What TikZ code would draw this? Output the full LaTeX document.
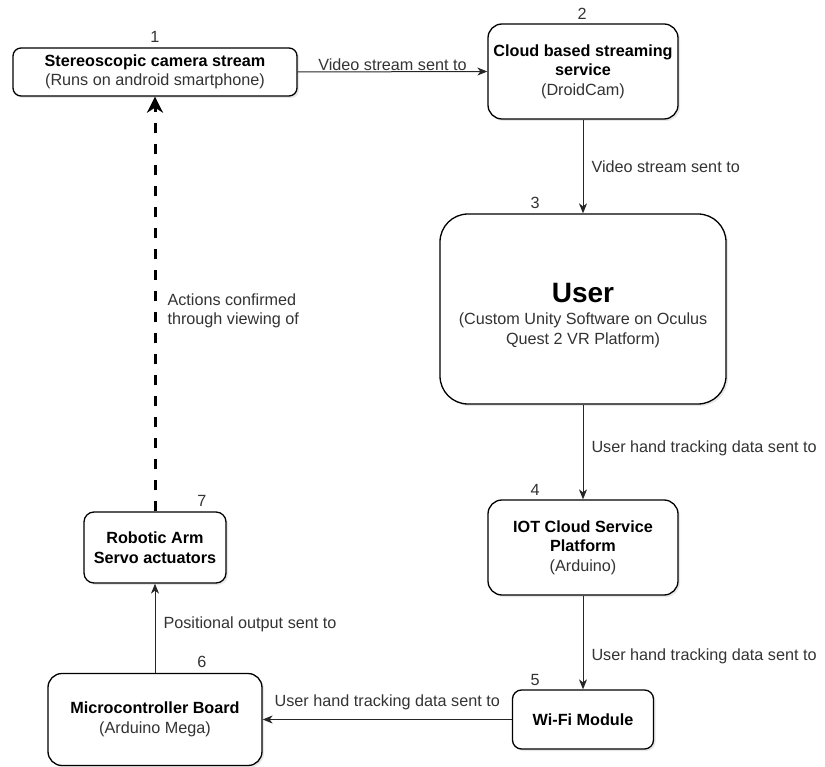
\documentclass[tikz,border=0pt]{standalone}
\usepackage{fontspec}
\setmainfont{Liberation Sans}
\usepackage{tikz}
\usetikzlibrary{arrows.meta,shadows}
\definecolor{txtgray}{HTML}{333333}

\begin{document}
\begin{tikzpicture}[x=1pt,y=-1pt,
	font=\fontsize{16.2}{19.5}\selectfont,
	box/.style={draw=black,line width=1.3pt,fill=white,align=center,inner sep=0pt,
		drop shadow={shadow xshift=2pt,shadow yshift=-2pt,opacity=0.18}},
	flow/.style={draw=black!85,line width=1pt,-{Stealth[length=10pt,width=8pt,inset=3pt]}},
	dashflow/.style={draw=black,line width=3pt,dash pattern=on 10pt off 11pt,
		-{Stealth[length=16pt,width=16pt,inset=5pt]}},
	lbl/.style={text=txtgray,inner sep=1pt},
	num/.style={text=txtgray,inner sep=0pt}]
	\useasboundingbox (0,0) rectangle (825,767);
	% boxes
	\node[box,rounded corners=8pt,minimum width=284pt,minimum height=48pt]
		(camera) at (155,72) {\textbf{Stereoscopic camera stream}\\{\color{txtgray}(Runs on android smartphone)}};
	\node[box,rounded corners=14pt,minimum width=190pt,minimum height=95pt]
		(stream) at (583,71.5) {\textbf{Cloud based streaming}\\\textbf{service}\\{\color{txtgray}(DroidCam)}};
	\node[box,rounded corners=28pt,minimum width=286pt,minimum height=190pt]
		(user) at (583,309) {{\rule{0pt}{32pt}\fontsize{28}{30}\selectfont\bfseries User}\\[2.5pt]{\color{txtgray}(Custom Unity Software on Oculus}\\{\color{txtgray}Quest 2 VR Platform)}};
	\node[box,rounded corners=14pt,minimum width=190pt,minimum height=95pt]
		(iot) at (583,547.5) {\textbf{IOT Cloud Service}\\\textbf{Platform}\\{\color{txtgray}(Arduino)}};
	\node[box,rounded corners=9pt,minimum width=141pt,minimum height=59pt]
		(wifi) at (583,719.5) {\textbf{Wi-Fi Module}};
	\node[box,rounded corners=14pt,minimum width=214pt,minimum height=92pt]
		(mcu) at (155,719.5) {\textbf{Microcontroller Board}\\{\color{txtgray}(Arduino Mega)}};
	\node[box,rounded corners=10pt,minimum width=142pt,minimum height=71pt]
		(arm) at (155,547.5) {\textbf{Robotic Arm}\\\textbf{Servo actuators}};
	% step numbers
	\node[num] (n1) at (155,37) {1};
	\node[num] (n2) at (582,14) {2};
	\node[num] (n3) at (535,203) {3};
	\node[num] (n4) at (535,490) {4};
	\node[num] (n5) at (535,680) {5};
	\node[num] (n6) at (202,662) {6};
	\node[num] (n7) at (202,501) {7};
	% connectors
	\draw[flow] (camera.east) -- (stream.west)
		node[lbl,midway,above] {Video stream sent to};
	\draw[flow] (stream) -- (user)
		node[lbl,midway,right=7pt] {Video stream sent to};
	\draw[flow] (user) -- (iot)
		node[lbl,pos=0.46,right=7pt] {User hand tracking data sent to};
	\draw[flow] (iot) -- (wifi)
		node[lbl,pos=0.65,right=7pt] {User hand tracking data sent to};
	\draw[flow] (wifi) -- (mcu)
		node[lbl,midway,above=8pt] {User hand tracking data sent to};
	\draw[flow] (mcu) -- (arm)
		node[lbl,pos=0.54,right=7pt] {Positional output sent to};
	\draw[dashflow] (arm) -- (camera)
		node[lbl,pos=0.484,right=10pt,align=left] {Actions confirmed\\through viewing of};
\end{tikzpicture}
\end{document}
